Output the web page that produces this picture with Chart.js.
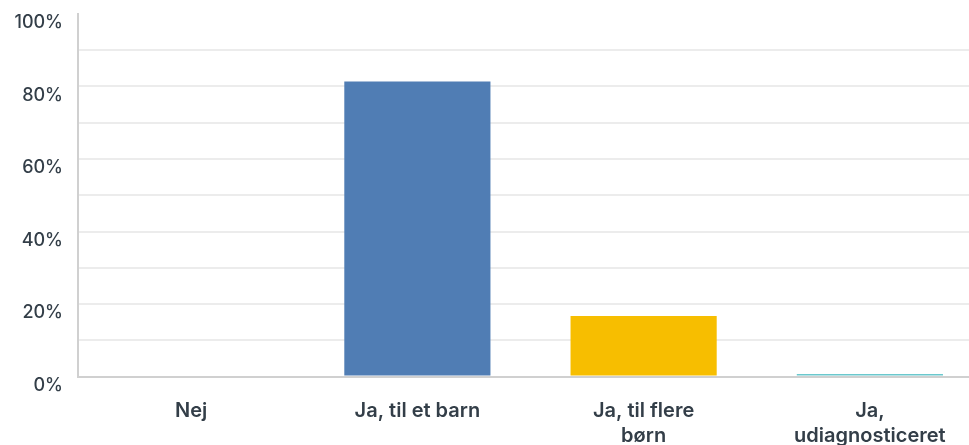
<!DOCTYPE html>
<html>
<head>
<meta charset="utf-8">
<script src="https://cdn.jsdelivr.net/npm/chart.js@4"></script>
<style>
  html, body { margin: 0; padding: 0; background: #fff; overflow: hidden; }
  #wrap { width: 983px; height: 445px; }
</style>
</head>
<body>
<div id="wrap"><canvas id="answerChart"></canvas></div>
<script>
const categories = ["Nej", "Ja, til et barn", ["Ja, til flere", "børn"], ["Ja,", "udiagnosticeret"]];
const percentages = [0, 81.4, 16.7, 0.7];
const barColors = ["#507db4", "#507db4", "#f7be00", "#6bc8cd"];
const yTicks = [0, 20, 40, 60, 80, 100];

const textColor = "#333e48";
const fontFamily = "Inter, 'Open Sans', sans-serif";

const ctx = document.getElementById("answerChart");

new Chart(ctx, {
  type: "bar",
  data: {
    labels: categories,
    datasets: [{
      data: percentages,
      backgroundColor: barColors,
      categoryPercentage: 1,
      barPercentage: 0.646
    }]
  },
  options: {
    responsive: true,
    maintainAspectRatio: false,
    animation: false,
    layout: { padding: { top: 14, right: 0, left: 0, bottom: 0 } },
    plugins: {
      legend: { display: false },
      tooltip: { enabled: false }
    },
    scales: {
      x: {
        grid: { display: false, drawTicks: false },
        border: { color: "#d0d0d0", width: 2 },
        ticks: {
          color: textColor,
          font: { family: fontFamily, size: 20, weight: "600", lineHeight: 1.25 },
          padding: 22,
          maxRotation: 0,
          autoSkip: false
        },
        afterFit: scale => {
          scale.height = 68.5;
          scale.paddingLeft = 0;
          scale.paddingRight = 0;
        }
      },
      y: {
        min: 0,
        max: 100,
        grid: {
          color: c => (c.tick && c.tick.value === 100 ? "rgba(0,0,0,0)" : "#ececec"),
          lineWidth: 2,
          drawTicks: false
        },
        border: { color: "#d0d0d0", width: 2 },
        ticks: {
          stepSize: 10,
          color: textColor,
          font: { family: fontFamily, size: 18, weight: "500" },
          padding: 15,
          labelOffset: 9,
          callback: v => (yTicks.includes(v) ? v + "%" : "")
        },
        afterFit: scale => {
          scale.width = 78;
          scale.paddingTop = 0;
          scale.paddingBottom = 0;
        }
      }
    }
  }
});
</script>
</body>
</html>
